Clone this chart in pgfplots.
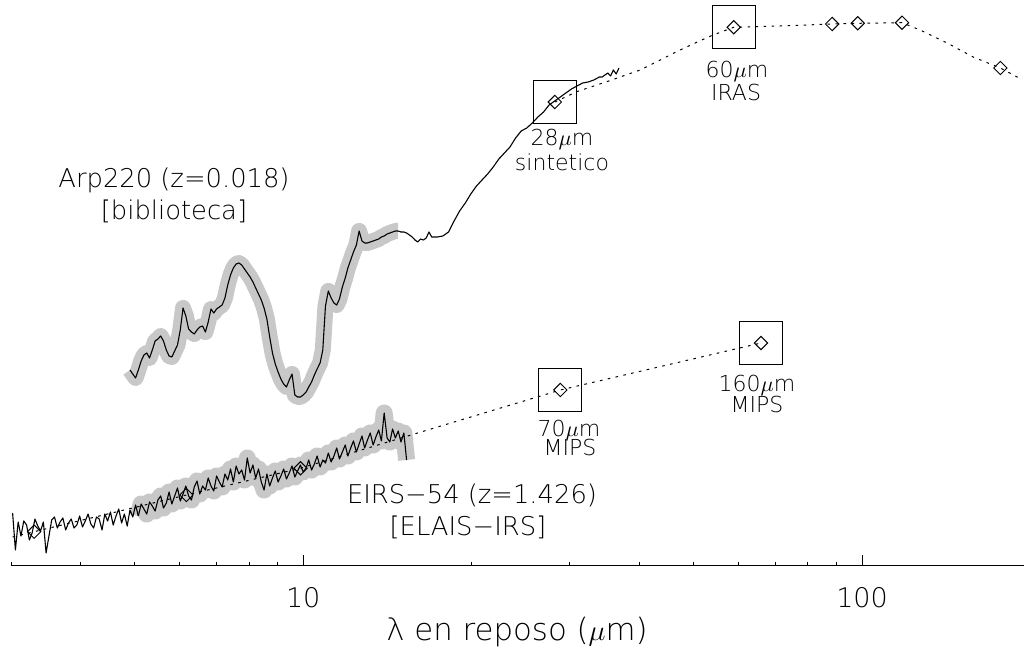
\documentclass[border=0pt]{standalone}
\usepackage{fontspec}
\setmainfont{DejaVu Sans ExtraLight}
\usepackage{pgfplots}
\usepackage{pgfplotstable}
\pgfplotsset{compat=1.18}

\definecolor{band}{RGB}{200,200,200}
\tikzset{
  anno/.style={font=\fontsize{11}{13}\selectfont, inner sep=0pt},
  big/.style={font=\fontsize{12.9}{15}\selectfont, inner sep=0pt},
}

% EIRS-54: IRS spectrum, rest frame (lambda in micron, arbitrary flux units)
\pgfplotstableread{
lam y
3.020 53
3.055 16
3.090 44
3.126 30
3.162 45
3.199 41
3.236 26
3.273 33
3.311 47
3.350 40
3.388 35
3.428 44
3.467 13
3.508 30
3.548 46
3.589 49
3.631 38
3.673 44
3.715 48
3.758 36
3.802 43
3.846 47
3.890 38
3.936 41
3.981 50
4.027 39
4.074 45
4.121 52
4.169 42
4.217 38
4.266 49
4.315 47
4.365 36
4.416 52
4.467 45
4.519 54
4.571 41
4.624 50
4.677 57
4.732 43
4.786 52
4.842 40
4.898 56
4.955 49
5.012 61
5.070 50
}\eirsA

\pgfplotstableread{
lam y
5.070 50
5.129 62
5.188 57
5.248 52
5.309 64
5.370 60
5.433 55
5.495 66
5.559 70
5.623 58
5.689 63
5.754 74
5.821 62
5.888 70
5.957 78
6.026 65
6.095 72
6.166 80
6.237 70
6.310 66
6.383 79
6.457 85
6.531 72
6.607 80
6.683 76
6.761 88
6.839 80
6.918 75
6.998 90
7.079 84
7.161 79
7.244 92
7.328 86
7.413 97
7.499 84
7.586 100
7.674 92
7.762 96
7.852 86
7.943 108
8.035 93
8.128 101
8.222 88
8.318 97
8.414 84
8.511 76
8.610 92
8.710 80
8.810 88
8.913 95
9.016 84
9.120 90
9.226 97
9.333 87
9.441 93
9.550 100
9.661 89
9.772 95
9.886 101
10.00 94
10.12 98
10.23 106
10.35 96
10.47 102
10.59 110
10.72 99
10.84 106
10.96 103
11.09 113
11.22 104
11.35 110
11.48 118
11.61 107
11.75 114
11.89 121
12.02 110
12.16 118
12.30 125
12.45 114
12.59 122
12.74 130
12.88 118
13.03 126
13.18 133
13.34 121
13.49 129
13.65 136
13.80 125
13.96 153
14.13 128
14.29 124
14.45 137
14.62 128
14.79 135
14.96 124
15.14 133
15.31 106
}\eirsB

% Arp220 template spectrum
\pgfplotstableread{
lam y
4.898 196
4.955 192
5.012 188
5.070 196
5.129 205
5.188 211
5.248 213
5.309 208
5.370 216
5.433 225
5.495 227
5.559 230
5.623 225
5.689 216
5.754 210
5.821 209
5.888 215
5.957 221
6.026 236
6.095 258
6.166 250
6.237 237
6.310 234
6.383 232
6.457 236
6.531 239
6.607 240
6.683 234
6.761 244
6.839 257
6.918 253
6.998 257
7.079 259
7.161 261
7.244 268
7.328 281
7.413 291
7.499 298
7.586 302
7.674 303
7.762 301
7.852 297
7.943 293
8.035 289
8.128 284
8.222 278
8.318 272
8.414 266
8.511 258
8.610 247
8.710 229
8.810 213
8.913 202
9.016 194
9.120 187
9.226 182
9.333 179
9.441 186
9.550 192
9.661 171
9.772 169
9.886 169
10.00 171
10.12 174
10.23 179
10.35 184
10.47 191
10.59 197
10.72 203
10.84 216
10.96 260
11.09 275
11.22 268
11.35 263
11.48 261
11.61 267
11.75 279
11.89 288
12.02 298
12.16 306
12.30 314
12.45 321
12.59 335
12.74 325
12.88 323
13.03 323
13.18 324
13.34 325
13.49 326
13.65 327
13.80 329
13.96 330
14.13 332
14.29 333
14.45 334
14.62 335
14.79 335
}\arpA

\pgfplotstableread{
lam y
14.79 335
14.96 334
15.14 334
15.31 333
15.49 331
15.67 329
15.85 326
16.03 324
16.22 327
16.41 326
16.60 328
16.79 334
16.98 329
17.38 329
17.78 330
18.20 334
18.62 345
19.05 355
19.50 363
19.95 372
20.42 380
20.89 386
21.38 392
21.88 399
22.39 407
22.91 413
23.44 419
23.99 428
24.55 435
25.12 438
25.70 443
26.30 449
26.92 454
27.54 461
28.18 465
28.84 469
29.51 473
30.20 477
30.90 480
31.62 483
32.36 484
33.11 486
33.88 489
34.28 489
34.67 491
35.08 493
35.48 490
35.89 496
36.31 492
36.73 498
}\arpB

% Photometry (rest frame) and SED models
\pgfplotstableread{
lam y
28.2 464
30.87 474.3
34.93 484.3
40.08 496
47.25 516
51.31 525.3
54.13 531
58.94 538.7
71.33 540
88.41 542
98.23 542.7
117.9 543.3
127.0 536
142.0 523
158.0 509
176.8 498
192.4 487
}\arpsed

\pgfplotstableread{
lam y
28.2 464
58.94 538.7
88.41 542
98.23 542.7
117.9 543.3
176.8 498
}\arpphot

\pgfplotstableread{
lam y
3.02 29
3.30 34.3
6.18 71
9.89 97.7
28.85 176
65.95 223
}\eirssed

\pgfplotstableread{
lam y
3.30 34.3
6.18 71
9.89 97.7
28.85 176
65.95 223
}\eirsphot

\begin{document}
\begin{tikzpicture}
\useasboundingbox (-5.5pt,-46.5pt) rectangle (506.5pt,283pt);
\begin{axis}[
  at={(0,0)}, anchor=south west,
  scale only axis, width=506.5pt, height=283pt,
  xmode=log, xmin=3, xmax=194.9, ymin=0, ymax=566,
  axis x line*=bottom, axis y line=none,
  axis line style={line width=0.5pt, black},
  xtick={10,100}, xticklabels={10,100},
  minor xtick={3,4,5,6,7,8,9,20,30,40,50,60,70,80,90},
  xtick align=inside,
  major tick length=5.5pt, minor tick length=2.2pt,
  every tick/.style={black, line width=0.5pt},
  xticklabel style={font=\fontsize{13.5}{16}\selectfont, yshift=-7pt},
  clip=false,
]
% error bands behind the spectra
\addplot[band, line width=8.5pt, line join=round] table[x=lam,y=y] {\eirsB};
\addplot[band, line width=8pt, line join=round] table[x=lam,y=y] {\arpA};

% SED model curves
\addplot[black, line width=0.5pt, dash pattern=on 1.3pt off 2.7pt] table[x=lam,y=y] {\arpsed};
\addplot[black, line width=0.5pt, dash pattern=on 1.3pt off 2.7pt] table[x=lam,y=y] {\eirssed};

% spectra
\addplot[black, line width=0.55pt, line join=round] table[x=lam,y=y] {\eirsA};
\addplot[black, line width=0.55pt, line join=round] table[x=lam,y=y] {\eirsB};
\addplot[black, line width=0.55pt, line join=round] table[x=lam,y=y] {\arpA};
\addplot[black, line width=0.55pt, line join=round] table[x=lam,y=y] {\arpB};

% photometric points
\addplot[only marks, mark=square, mark size=2.35pt,
  mark options={rotate=45, black, line width=0.5pt}] table[x=lam,y=y] {\arpphot};
\addplot[only marks, mark=square, mark size=2.35pt,
  mark options={rotate=45, black, line width=0.5pt}] table[x=lam,y=y] {\eirsphot};

% boxes around the highlighted bands
\addplot[only marks, mark=square, mark size=10.75pt,
  mark options={black, line width=0.55pt}] coordinates {(28.2,464) (58.94,538.7) (28.85,176) (65.95,223)};

% annotations
\node[big] at (rel axis cs:0.1609,0.6820) {Arp220 (z=0.018)};
\node[big] at (rel axis cs:0.1609,0.6272) {[biblioteca]};
\node[big] at (rel axis cs:0.4551,0.1254) {EIRS−54 (z=1.426)};
\node[big] at (rel axis cs:0.4511,0.0689) {[ELAIS−IRS]};
\node[anno] at (rel axis cs:0.5439,0.7535) {28$\mu$m};
\node[anno] at (rel axis cs:0.5439,0.7138) {sintetico};
\node[anno] at (rel axis cs:0.7167,0.8737) {60$\mu$m};
\node[anno] at (rel axis cs:0.7157,0.8366) {IRAS};
\node[anno] at (rel axis cs:0.5508,0.2403) {70$\mu$m};
\node[anno] at (rel axis cs:0.5518,0.2102) {MIPS};
\node[anno] at (rel axis cs:0.7364,0.3198) {160$\mu$m};
\node[anno] at (rel axis cs:0.7364,0.2862) {MIPS};
\node[font=\fontsize{15.4}{18}\selectfont, inner sep=0pt] at (rel axis cs:0.4995,-0.1166) {λ en reposo ($\mu$m)};
\end{axis}
\end{tikzpicture}
\end{document}
